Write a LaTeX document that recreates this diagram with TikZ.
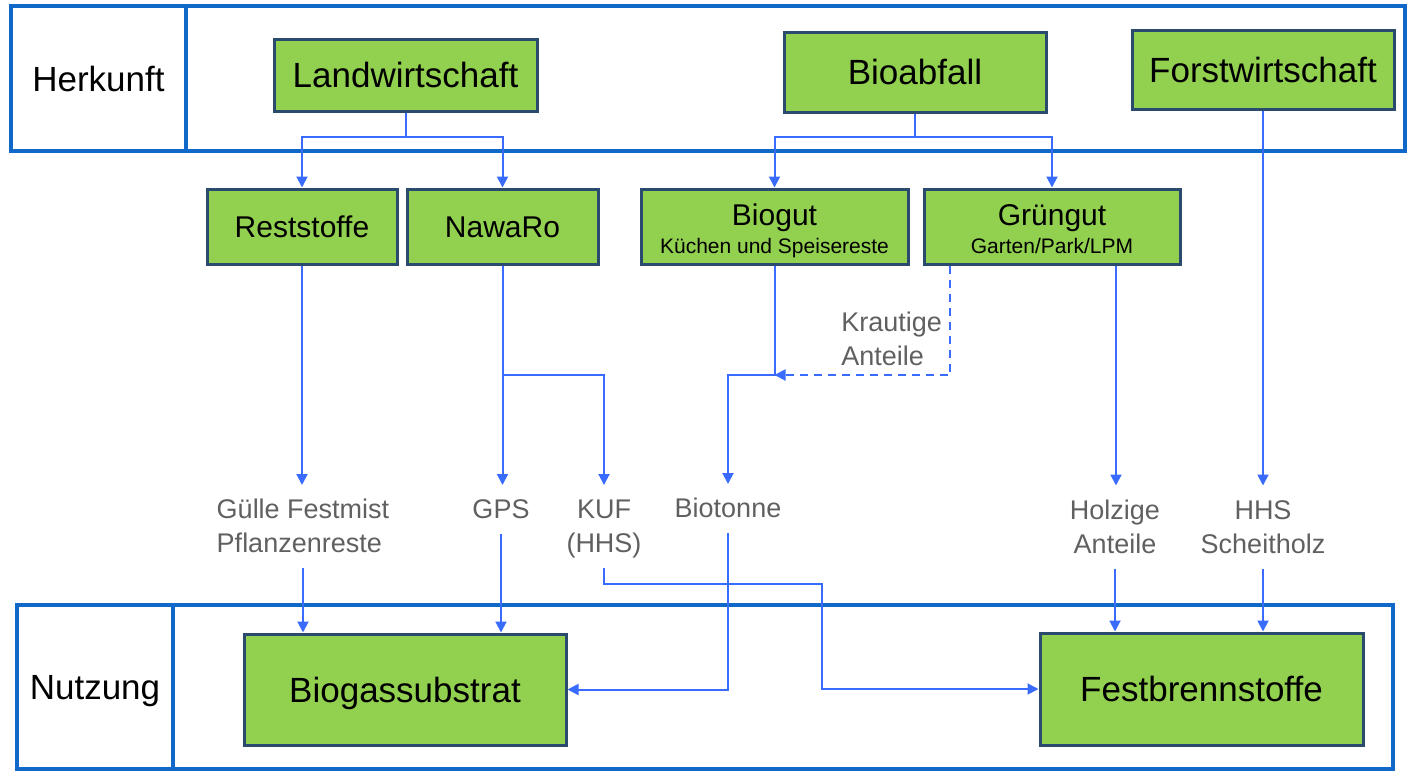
\documentclass[tikz,border=0pt]{standalone}
\usepackage{fontspec}
\setmainfont{Liberation Sans}
\usetikzlibrary{arrows.meta}
\definecolor{boxgreen}{HTML}{92D050}
\definecolor{boxedge}{HTML}{2A4A6E}
\definecolor{framecol}{HTML}{1068C8}
\definecolor{arrcol}{HTML}{3A6BFF}
\definecolor{labgray}{HTML}{606060}
\newcommand{\bigf}{\fontsize{17.5}{21}\selectfont}
\newcommand{\medf}{\fontsize{15}{18}\selectfont}
\newcommand{\smlf}{\fontsize{10.5}{12.6}\selectfont}
\newcommand{\labf}{\fontsize{13.5}{17}\selectfont}
\tikzset{
  cell/.style={draw=framecol, line width=1.75pt, inner sep=0pt, text height=12.53pt, text depth=0pt},
  gbox/.style={draw=boxedge, line width=1.5pt, fill=boxgreen, inner sep=0pt, text depth=0pt},
  bigbox/.style={gbox, font=\bigf, text height=12.53pt},
  medbox/.style={gbox, font=\medf, text height=10.74pt},
  lab/.style={text=labgray, font=\labf, inner sep=0pt},
  lnk/.style={draw=arrcol, line width=1pt},
  flow/.style={lnk, -{Triangle[width=5.5pt,length=5.5pt]}},
  tolab/.style={shorten >=4.75pt},
  fromlab/.style={shorten <=2.5pt}
}
\begin{document}
\begin{tikzpicture}[x=0.5pt,y=-0.5pt]
\useasboundingbox (0,0) rectangle (1409,771);
% frames
\node[cell, minimum width=87.5pt, minimum height=72.5pt, font=\bigf] (herk) at (98.5,78.5) {Herkunft};
\node[cell, minimum width=609.5pt, minimum height=72.5pt] (herkarea) at (795.5,78.5) {};
\node[cell, minimum width=78pt, minimum height=82pt, font=\bigf] (nutz) at (95,687) {Nutzung};
\node[cell, minimum width=610pt, minimum height=82pt] (nutzarea) at (783,687) {};
% boxes
\node[bigbox, minimum width=131.5pt, minimum height=36pt] (land) at (405.5,75) {Landwirtschaft};
\node[bigbox, minimum width=131pt, minimum height=40pt] (bioab) at (915,72) {Bioabfall};
\node[bigbox, minimum width=131pt, minimum height=39.5pt] (forst) at (1263,69.5) {Forstwirtschaft};
\node[medbox, minimum width=95pt, minimum height=37.5pt] (rest) at (302,226.5) {Reststoffe};
\node[medbox, minimum width=95.5pt, minimum height=37.5pt] (nawa) at (502.5,226.5) {NawaRo};
\node[gbox, minimum width=133.5pt, minimum height=37.5pt] (biogut) at (774.5,226.5) {};
\node[gbox, minimum width=128pt, minimum height=37.5pt] (grueng) at (1052,226.5) {};
\node[font=\medf, anchor=base, inner sep=0pt] (biogutT) at (774.5,225) {Biogut};
\node[font=\smlf, anchor=base, inner sep=0pt] (biogutS) at (774.5,253) {Küchen und Speisereste};
\node[font=\medf, anchor=base, inner sep=0pt] (gruengT) at (1052,225) {Grüngut};
\node[font=\smlf, anchor=base, inner sep=0pt] (gruengS) at (1052,253) {Garten/Park/LPM};
\node[bigbox, minimum width=161pt, minimum height=55.5pt] (biogas) at (405,689.5) {Biogassubstrat};
\node[bigbox, minimum width=161.5pt, minimum height=56pt] (fest) at (1201.5,689) {Festbrennstoffe};
% labels
\node[lab, align=left, anchor=north] (gulle) at (303,494.5) {\strut Gülle Festmist\\\strut Pflanzenreste};
\node[lab, anchor=north] (gps) at (501,494.5) {\strut GPS};
\node[lab, align=center, anchor=north] (kuf) at (604,494.5) {\strut KUF\\\strut (HHS)};
\node[lab, anchor=north] (biotonne) at (728,493.5) {\strut Biotonne};
\node[lab, align=center, anchor=north] (holzige) at (1115,495) {\strut Holzige\\\strut Anteile};
\node[lab, align=center, anchor=north] (hhs) at (1263,495) {\strut HHS\\\strut Scheitholz};
\node[lab, align=left, anchor=north west] (kraut) at (841,307) {\strut Krautige\\\strut Anteile};
% connectors top
\coordinate (j1) at (405.5,137);
\draw[lnk] (land.south) -- (j1);
\draw[flow] (j1) -| (rest.north);
\draw[flow] (j1) -| (nawa.north);
\coordinate (j5) at (915,137);
\draw[lnk] (bioab.south) -- (j5);
\draw[flow] (j5) -| (biogut.north);
\draw[flow] (j5) -| (grueng.north);
\draw[flow, tolab] (forst.south) -- (forst.south |- hhs.north);
% middle
\draw[flow, tolab] (rest.south) -- (rest.south |- gulle.north);
\coordinate (j2) at (502.5,375);
\draw[lnk] (nawa.south) -- (j2);
\draw[flow, tolab] (j2) -- (j2 |- gps.north);
\draw[flow, tolab] (j2) -| (kuf.north);
\coordinate (j3) at (774.5,375);
\coordinate (j4) at (728,375);
\draw[flow, tolab] (biogut.south) -- (j3) -- (j4) -- (j4 |- biotonne.north);
\draw[flow, dashed, dash pattern=on 4pt off 3pt] ([xshift=-51pt]grueng.south) |- (j3);
\draw[flow, tolab] ([xshift=32pt]grueng.south) -- ([xshift=32pt]grueng.south |- holzige.north);
% bottom
\draw[flow, fromlab] (gulle.south) -- (gulle.south |- biogas.north);
\draw[flow, fromlab] (gps.south) -- (gps.south |- biogas.north);
\coordinate (k1) at (822,584);
\draw[flow, fromlab] (kuf.south) |- (k1) |- (fest.west);
\draw[flow, fromlab] (biotonne.south) |- (biogas.east);
\draw[flow, fromlab] (holzige.south) -- (holzige.south |- fest.north);
\draw[flow, fromlab] (hhs.south) -- (hhs.south |- fest.north);
\end{tikzpicture}
\end{document}
